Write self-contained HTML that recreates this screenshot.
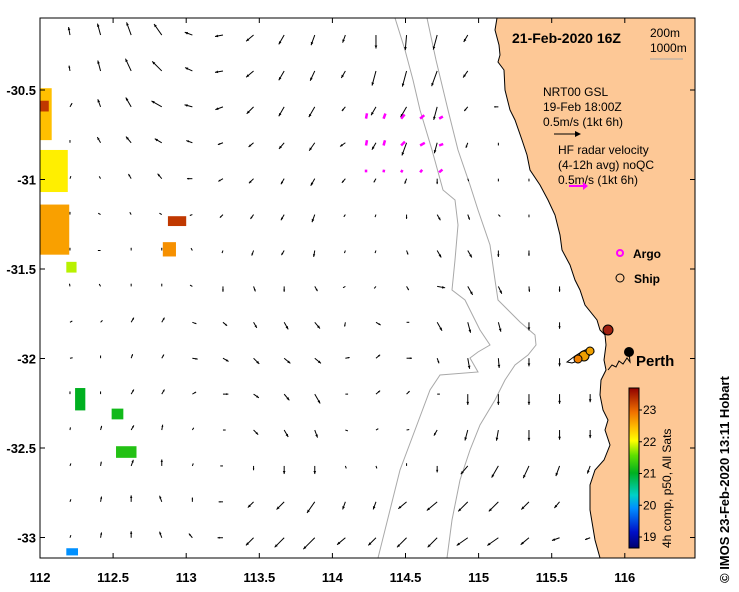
<!DOCTYPE html>
<html><head><meta charset="utf-8"><style>
html,body{margin:0;padding:0;background:#fff;}
svg{display:block;font-family:"Liberation Sans",sans-serif;}
</style></head><body>
<svg id="chart" width="739" height="592" viewBox="0 0 739 592">
<defs>
<linearGradient id="cbar" x1="0" y1="1" x2="0" y2="0">
<stop offset="0" stop-color="#00006e"/><stop offset="0.1" stop-color="#0010c8"/><stop offset="0.25" stop-color="#0090ff"/><stop offset="0.33" stop-color="#00d0c8"/><stop offset="0.47" stop-color="#00b020"/><stop offset="0.58" stop-color="#60e000"/><stop offset="0.67" stop-color="#ffff00"/><stop offset="0.75" stop-color="#ffc000"/><stop offset="0.85" stop-color="#f07000"/><stop offset="1" stop-color="#900000"/>
</linearGradient>
<clipPath id="plotclip"><rect x="40" y="18" width="655" height="540"/></clipPath>
</defs>
<g id="plot" clip-path="url(#plotclip)">
<rect x="40" y="18" width="655" height="540" fill="#fff"/>
<g id="sst"></g>
<polyline fill="none" stroke="#a8a8a8" stroke-width="1" points="395,18 405,50 413,80 420,110 432,150 443,190 455,200 458,225 455,260 452,290 465,300 480,330 490,345 478,352 470,358 478,372 440,375 430,390 415,430 400,470 390,510 378,558"/>
<polyline fill="none" stroke="#a8a8a8" stroke-width="1" points="427,18 436,60 448,110 458,150 470,185 478,210 490,245 495,280 498,300 510,312 520,322 535,335 536,345 528,355 515,365 505,380 495,400 480,425 470,450 460,480 452,520 447,558"/>
<g id="arrows"></g>
<g id="hf"></g>
<polygon fill="#fdc896" stroke="#000" stroke-width="1" points="497,18 495,30 499,45 500,55 498,62 504,70 505,90 510,110 515,120 522,140 527,155 530,170 540,185 548,200 555,215 560,235 562,250 570,265 575,280 580,290 585,305 597,320 600,330 605,335 606,345 604,360 606,370 601,380 600,395 603,410 608,420 605,430 610,445 604,460 595,470 590,485 590,510 595,540 600,558 700,558 700,10 497,10"/>
<polygon fill="#fff" stroke="#000" stroke-width="1" points="567,362 575,356 583,351 590,348 594,352 586,358 572,363"/>
<polyline fill="none" stroke="#000" stroke-width="1" points="608,370 612,365 616,367 619,361 623,364 627,358 630,362 629,352"/>
<circle cx="608" cy="330" r="5" fill="#a02010" stroke="#000"/>
<circle cx="584" cy="356" r="5" fill="#f0a000" stroke="#000"/>
<circle cx="590" cy="351" r="4" fill="#f0a000" stroke="#000"/>
<circle cx="578" cy="359" r="4" fill="#f08000" stroke="#000"/>
<circle cx="629" cy="352" r="5" fill="#000"/>
<text x="636" y="366" font-size="15" font-weight="bold">Perth</text>
<text x="512" y="43" font-size="14" font-weight="bold">21-Feb-2020 16Z</text>
<text x="650" y="37" font-size="12">200m</text>
<text x="650" y="52" font-size="12">1000m</text>
<line x1="650" y1="59" x2="683" y2="59" stroke="#a8a8a8"/>
<text font-size="12"><tspan x="543" y="96">NRT00 GSL</tspan><tspan x="543" y="111">19-Feb 18:00Z</tspan><tspan x="543" y="126">0.5m/s (1kt 6h)</tspan></text>
<g><line x1="554" y1="134" x2="579" y2="134" stroke="#000"/><path d="M575,131 L581,134 L575,137 Z" fill="#000"/></g>
<text font-size="12"><tspan x="558" y="154">HF radar velocity</tspan><tspan x="558" y="169">(4-12h avg) noQC</tspan><tspan x="558" y="184">0.5m/s (1kt 6h)</tspan></text>
<g><line x1="569" y1="186" x2="585" y2="186" stroke="#ff00ff" stroke-width="2"/><path d="M583,182 L588,186 L583,190 Z" fill="#ff00ff"/></g>
<circle cx="620" cy="253" r="3" fill="none" stroke="#ff00ff" stroke-width="2"/>
<text x="633" y="258" font-size="12" font-weight="bold">Argo</text>
<circle cx="620" cy="278" r="4" fill="none" stroke="#000"/>
<text x="634" y="283" font-size="12" font-weight="bold">Ship</text>
</g>
<rect x="40" y="18" width="655" height="540" fill="none" stroke="#000" stroke-width="1"/>
<g id="axes"></g>
<rect x="629" y="388" width="10" height="160" fill="url(#cbar)" stroke="#000"/>
<g id="cbticks"></g>
<text transform="translate(671,548) rotate(-90)" font-size="12">4h comp, p50, All Sats</text>
<text transform="translate(729,583) rotate(-90)" font-size="13" font-weight="bold">©  IMOS 23-Feb-2020 13:11 Hobart</text>
</svg>
<script>
const xTicks=[112,112.5,113,113.5,114,114.5,115,115.5,116];
const xTickLabels=["112","112.5","113","113.5","114","114.5","115","115.5","116"];
const yTicks=[-30.5,-31,-31.5,-32,-32.5,-33];
const yTickLabels=["-30.5","-31","-31.5","-32","-32.5","-33"];
const cbTicks=[19,20,21,22,23];
const gridLon0=112.205, gridDLon=0.2093, gridLat0=-30.193, gridDLat=-0.2006;
const arrowAngles=[
[350,345,340,325,290,260,230,210,200,200,180,185,195,210],
[350,345,335,315,295,260,230,210,205,210,195,195,200,215],
[30,340,330,300,285,250,225,210,210,220,210,210,195,220,270],
[0,330,320,300,290,250,230,220,215,235,210,200,195,200,180],
[20,330,330,320,270,240,225,210,210,220,210,200,180,160,180,180],
[0,300,330,300,250,225,215,210,200,215,200,180,150,160,135,180],
[0,270,0,0,330,200,200,210,190,200,200,160,150,150,180,180,180],
[350,330,0,0,300,180,160,180,150,240,220,150,100,150,155,175,180],
[60,45,30,30,110,130,150,150,140,190,120,90,150,165,165,180,180],
[80,0,20,30,100,120,135,130,130,80,50,90,160,170,175,180,180],
[0,0,30,30,60,90,125,140,150,90,50,45,90,180,180,180,180,180],
[10,15,30,10,30,90,135,150,160,110,60,80,210,195,190,180,180,180,200],
[20,10,20,0,20,270,180,180,180,160,160,0,180,220,210,205,200,200,190],
[20,10,0,340,0,270,225,225,215,200,200,230,230,225,225,225,220,220,210],
[20,10,0,340,320,270,225,225,225,230,225,225,225,235,235,230,250,250,240]];
const arrowSpeeds=[
[.15,.22,.25,.25,.15,.15,.18,.2,.2,.15,.25,.28,.28,.15],
[.1,.2,.25,.25,.15,.15,.18,.2,.2,.15,.28,.3,.3,.15],
[.08,.15,.2,.22,.15,.15,.18,.2,.22,.1,.18,.22,.25,.1,.08],
[.05,.12,.15,.15,.12,.1,.12,.15,.18,.12,.15,.25,.2,.1,.05],
[.05,.05,.1,.12,.1,.1,.12,.12,.15,.1,.08,.1,.1,.05,.05,.05],
[.05,.05,.05,.05,.05,.08,.1,.12,.15,.05,.05,.08,.12,.1,.05,.05],
[.05,.05,.05,.05,.05,.05,.1,.1,.12,.05,.05,.08,.15,.15,.12,.1,.05],
[.05,.05,.05,.05,.05,.1,.1,.1,.1,.05,.05,.08,.15,.18,.15,.1,.1],
[.05,.05,.1,.1,.08,.1,.12,.15,.15,.08,.1,.05,.18,.2,.18,.15,.12],
[.05,.05,.08,.08,.1,.12,.15,.15,.15,.08,.1,.1,.1,.2,.18,.15,.15],
[.05,.05,.1,.1,.08,.1,.12,.15,.2,.05,.1,.08,.05,.2,.2,.2,.18,.15],
[.05,.08,.1,.1,.05,.05,.12,.15,.15,.05,.05,.05,.12,.2,.2,.2,.18,.15,.1],
[.05,.08,.12,.12,.05,.05,.08,.15,.15,.05,.05,.05,.12,.2,.25,.25,.2,.15,.1],
[.05,.1,.12,.12,.08,.08,.15,.2,.25,.15,.15,.2,.25,.25,.25,.2,.15,.15,.1],
[.05,.1,.12,.12,.1,.1,.2,.25,.3,.2,.2,.25,.25,.25,.25,.2,.15,.1,.1]];
const hfLons=[114.23,114.35,114.47,114.6,114.73];
const hfLats=[-30.66,-30.81,-30.96];
const hfAngles=[[10,20,40,50,60],[10,15,45,60,70],[0,10,30,40,50]];
const hfSpeeds=[[.1,.1,.1,.1,.08],[.1,.1,.1,.1,.08],[.05,.05,.05,.06,.08]];
const sstLon1=[112.0,112.0,112.0,112.0,112.875,112.84,112.18,112.24,112.49,112.52,112.18];
const sstLat1=[-30.49,-30.56,-30.835,-31.14,-31.205,-31.35,-31.46,-32.165,-32.28,-32.49,-33.06];
const sstLon2=[112.08,112.06,112.19,112.2,113.0,112.93,112.25,112.31,112.57,112.66,112.26];
const sstLat2=[-30.78,-30.62,-31.07,-31.42,-31.26,-31.43,-31.52,-32.29,-32.34,-32.555,-33.1];
const sstVals=[22.4,23.3,22.1,22.6,23.3,22.7,21.8,21.0,21.1,21.2,19.9];

const X=lon=>40+(lon-112)*146.2;
const Y=lat=>90+(-30.5-lat)*179;
const CY=v=>537-(v-19)*31.75;
const NS='http://www.w3.org/2000/svg';
function mk(tag,attrs,parent){const e=document.createElementNS(NS,tag);for(const k in attrs)e.setAttribute(k,attrs[k]);parent.appendChild(e);return e;}
const coast=[[497,18],[495,30],[499,45],[500,55],[498,62],[504,70],[505,90],[510,110],[515,120],[522,140],[527,155],[530,170],[540,185],[548,200],[555,215],[560,235],[562,250],[570,265],[575,280],[580,290],[585,305],[597,320],[600,330],[605,335],[606,345],[604,360],[606,370],[601,380],[600,395],[603,410],[608,420],[605,430],[610,445],[604,460],[595,470],[590,485],[590,510],[595,540],[600,558]];
function coastX(y){for(let i=0;i<coast.length-1;i++){const a=coast[i],b=coast[i+1];if(y>=a[1]&&y<=b[1])return a[0]+(b[0]-a[0])*(y-a[1])/(b[1]-a[1]);}return 600;}
const stops=[[18.65,[0,0,110]],[19.15,[0,16,200]],[19.9,[0,144,255]],[20.3,[0,208,200]],[21.0,[0,176,32]],[21.55,[96,224,0]],[22.0,[255,255,0]],[22.4,[255,192,0]],[22.9,[240,112,0]],[23.7,[144,0,0]]];
function col(v){for(let i=0;i<stops.length-1;i++){const a=stops[i],b=stops[i+1];if(v<=b[0]){const t=Math.max(0,(v-a[0])/(b[0]-a[0]));return 'rgb('+a[1].map((c,k)=>Math.round(c+(b[1][k]-c)*t)).join(',')+')';}}return 'rgb(144,0,0)';}

const sstG=document.getElementById('sst');
sstVals.forEach((v,i)=>{
const r=mk('rect',{x:X(sstLon1[i]),y:Y(sstLat1[i]),width:X(sstLon2[i])-X(sstLon1[i]),height:Y(sstLat2[i])-Y(sstLat1[i]),fill:col(v)},sstG);


});

function drawArrow(g,x,y,ang,len,color,w,name,hs){
const rad=ang*Math.PI/180,dx=Math.sin(rad)*len,dy=-Math.cos(rad)*len;
const x2=x+dx,y2=y+dy;
const grp=mk('g',{},g);


mk('line',{x1:x,y1:y,x2:x2,y2:y2,stroke:color,'stroke-width':w},grp);
const ux=dx/len,uy=dy/len,h=Math.min(hs,len*0.4);
mk('path',{d:`M${x2},${y2} L${x2-ux*h-uy*h*0.45},${y2-uy*h+ux*h*0.45} L${x2-ux*h+uy*h*0.45},${y2-uy*h-ux*h*0.45} Z`,fill:color},grp);
}
const arG=document.getElementById('arrows');
arrowAngles.forEach((row,r)=>row.forEach((a,c)=>{
const s=(arrowSpeeds[r]||[])[c];if(!s)return;
const x=X(gridLon0+c*gridDLon),y=Y(gridLat0+r*gridDLat);
if(x>coastX(y)-3)return;
drawArrow(arG,x,y,a,s*54,'#000',1,'current-arrow',3);
}));
const hfG=document.getElementById('hf');
hfLats.forEach((lat,r)=>hfLons.forEach((lon,c)=>{
drawArrow(hfG,X(lon),Y(lat),hfAngles[r][c],hfSpeeds[r][c]*54,'#ff00ff',2.5,'hf-arrow',3);
}));

const ax=document.getElementById('axes');
xTicks.forEach((t,i)=>{
const x=X(t);
const l1=mk('line',{x1:x,y1:558,x2:x,y2:553,stroke:'#000'},ax);


mk('line',{x1:x,y1:18,x2:x,y2:23,stroke:'#000'},ax);
const tx=mk('text',{x:x,y:582,'text-anchor':'middle','font-size':13,'font-weight':'bold'},ax);
tx.textContent=xTickLabels[i];


});
yTicks.forEach((t,i)=>{
const y=Y(t);
const l1=mk('line',{x1:40,y1:y,x2:45,y2:y,stroke:'#000'},ax);


mk('line',{x1:695,y1:y,x2:690,y2:y,stroke:'#000'},ax);
const tx=mk('text',{x:36,y:y+5,'text-anchor':'end','font-size':13,'font-weight':'bold'},ax);
tx.textContent=yTickLabels[i];


});
const cbG=document.getElementById('cbticks');
cbTicks.forEach(t=>{
const y=CY(t);
mk('line',{x1:639,y1:y,x2:642,y2:y,stroke:'#000'},cbG);
const tx=mk('text',{x:643,y:y+4,'font-size':12},cbG);
tx.textContent=String(t);


});
</script>
</body></html>
